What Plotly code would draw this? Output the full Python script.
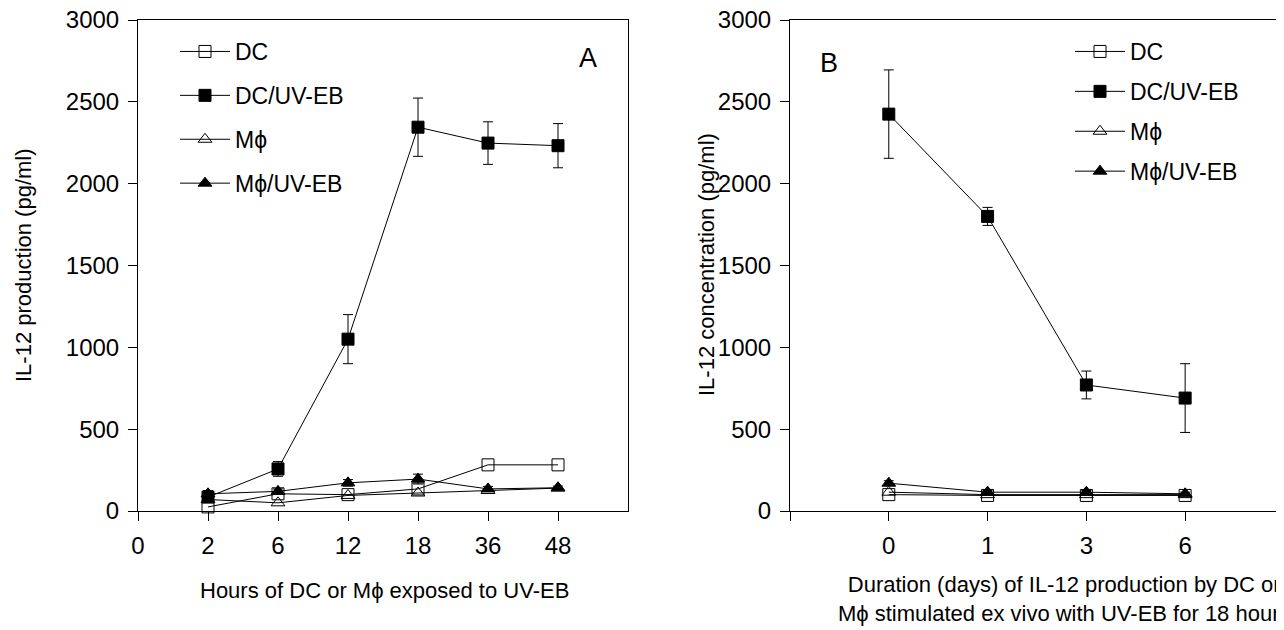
import plotly.graph_objects as go

# ---------------- data ----------------
hours_labels = ["0", "2", "6", "12", "18", "36", "48"]
hours_pos = [1, 2, 3, 4, 5, 6]          # category index of 2,6,12,18,36,48
a_dc = [25, 105, 100, 135, 282, 282]
a_dc_uv = [85, 257, 1050, 2345, 2248, 2232]
a_dc_uv_err = [20, 45, 150, 178, 130, 135]
a_mp = [70, 50, 95, 110, 125, 140]
a_mp_uv = [105, 120, 172, 195, 135, 142]
a_mp_uv_err = [20, 15, 20, 30, 15, 10]

days_labels = ["", "0", "1", "3", "6"]
days_pos = [0, 1, 2, 3]
b_dc = [100, 95, 95, 95]
b_dc_uv = [2425, 1800, 770, 690]
b_dc_uv_err = [270, 55, 85, 210]
b_mp = [115, 100, 100, 100]
b_mp_uv = [170, 115, 115, 105]
b_mp_uv_err = [15, 10, 10, 10]

names = ["DC", "DC/UV-EB", "Mϕ", "Mϕ/UV-EB"]
symbols = ["square-open", "square", "triangle-up-open", "triangle-up"]

FONT = "Liberation Sans, Arial, Helvetica, sans-serif"

# page body has an 8px margin
OFF = 8
W, H = 1284 - OFF, 630 - OFF


def px(x):
    return (x - OFF) / W


def py(y):
    return 1 - (y - OFF) / H


fig = go.Figure()


def add(x, y, i, xa, ya, leg, err=None):
    fig.add_trace(go.Scatter(
        x=x, y=y, mode="lines+markers", name=names[i],
        xaxis=xa, yaxis=ya, legend=leg, legendgroup=leg + str(i),
        line=dict(color="black", width=1),
        marker=dict(symbol=symbols[i], size=12, color="black",
                    line=dict(color="black", width=1)),
        error_y=(dict(type="data", array=err, color="black", thickness=1, width=5)
                 if err is not None else None),
        cliponaxis=False,
    ))


add(hours_pos, a_dc, 0, "x", "y", "legend")
add(hours_pos, a_dc_uv, 1, "x", "y", "legend", a_dc_uv_err)
add(hours_pos, a_mp, 2, "x", "y", "legend")
add(hours_pos, a_mp_uv, 3, "x", "y", "legend", a_mp_uv_err)

add(days_pos, b_dc, 0, "x2", "y2", "legend2")
add(days_pos, b_dc_uv, 1, "x2", "y2", "legend2", b_dc_uv_err)
add(days_pos, b_mp, 2, "x2", "y2", "legend2")
add(days_pos, b_mp_uv, 3, "x2", "y2", "legend2", b_mp_uv_err)

axis_common = dict(showline=True, linecolor="black", linewidth=1, mirror=True,
                   ticks="outside", ticklen=9, tickcolor="black", tickwidth=1,
                   showgrid=False, zeroline=False, automargin=False,
                   ticklabelstandoff=4, ticklabeloverflow="allow",
                   tickfont=dict(family=FONT, size=24, color="black"))

ydom = [py(511), py(20)]

fig.update_layout(
    width=W, height=H,
    margin=dict(l=0, r=0, t=0, b=0, autoexpand=False),
    paper_bgcolor="white", plot_bgcolor="white",
    font=dict(family=FONT, color="black"),
    xaxis=dict(domain=[px(138), px(628)], range=[0, 7],
               tickvals=list(range(7)), ticktext=hours_labels, anchor="y",
               **axis_common),
    yaxis=dict(domain=ydom, range=[0, 3000], dtick=500, anchor="x",
               **axis_common),
    xaxis2=dict(domain=[px(790), px(1278)], range=[-1, 3.94],
                tickvals=[-1, 0, 1, 2, 3], ticktext=days_labels, anchor="y2",
                **axis_common),
    yaxis2=dict(domain=ydom, range=[0, 3000], dtick=500, anchor="x2",
                **axis_common),
    legend=dict(x=px(167 + OFF), y=py(22 + OFF), xanchor="left", yanchor="top",
                font=dict(family=FONT, size=23), bgcolor="rgba(0,0,0,0)",
                itemwidth=50,
                traceorder="grouped", tracegroupgap=11),
    legend2=dict(x=px(1062 + OFF), y=py(22 + OFF), xanchor="left", yanchor="top",
                 font=dict(family=FONT, size=23), bgcolor="rgba(0,0,0,0)",
                 itemwidth=50,
                 traceorder="grouped", tracegroupgap=7),
    annotations=[
        dict(text="A", x=px(588), y=py(58), xref="paper", yref="paper",
             xanchor="center", yanchor="middle",
             showarrow=False, font=dict(size=27)),
        dict(text="B", x=px(829), y=py(63), xref="paper", yref="paper",
             xanchor="center", yanchor="middle",
             showarrow=False, font=dict(size=27)),
        dict(text="IL-12 production (pg/ml)", textangle=-90,
             x=px(23), y=py(265), xref="paper", yref="paper",
             xanchor="center", yanchor="middle",
             showarrow=False, font=dict(size=22)),
        dict(text="IL-12 concentration (pg/ml)", textangle=-90,
             x=px(706), y=py(265), xref="paper", yref="paper",
             xanchor="center", yanchor="middle",
             showarrow=False, font=dict(size=22)),
        dict(text="Hours of DC or Mϕ exposed to UV-EB",
             x=px(384), y=py(590), xref="paper", yref="paper",
             xanchor="center", yanchor="middle",
             showarrow=False, font=dict(size=22)),
        dict(text="Duration (days) of IL-12 production by DC or<br>"
                  "Mϕ stimulated ex vivo with UV-EB for 18 hours",
             x=px(1064), y=py(599), xref="paper", yref="paper",
             xanchor="center", yanchor="middle",
             showarrow=False, font=dict(size=22), align="center"),
    ],
)

fig.write_html("out.html")
